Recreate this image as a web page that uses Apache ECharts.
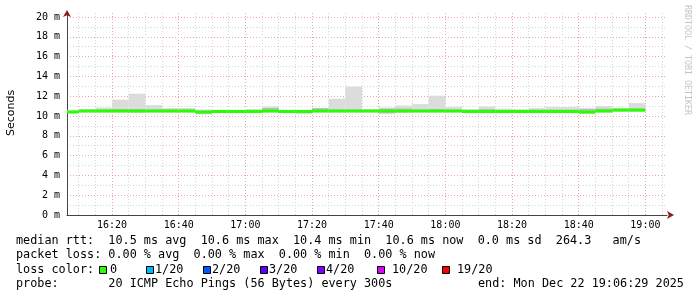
<!DOCTYPE html>
<html>
<head>
<meta charset="utf-8">
<script src="https://cdn.jsdelivr.net/npm/echarts@6/dist/echarts.min.js"></script>
<style>
html,body{margin:0;padding:0;background:#ffffff;}
#chart{width:697px;height:297px;}
</style>
</head>
<body>
<div id="chart"></div>
<script>
// ---- data (5-minute smoke columns, ms) ----
const colStarts = ['16:05','16:10','16:15','16:20','16:25','16:30','16:35','16:40','16:45','16:50',
  '16:55','17:00','17:05','17:10','17:15','17:20','17:25','17:30','17:35','17:40',
  '17:45','17:50','17:55','18:00','18:05','18:10','18:15','18:20','18:25','18:30',
  '18:35','18:40','18:45','18:50','18:55'];
const smokeMax = [10.6,10.7,10.85,11.65,12.25,11.1,10.8,10.8,10.65,10.5,
  10.55,10.7,10.95,10.6,10.6,10.8,11.75,12.95,10.7,10.85,
  11.05,11.2,12.05,10.9,10.7,10.95,10.75,10.7,10.8,10.9,
  10.9,10.8,11.0,10.8,11.3];
const smokeMin = [10.3,10.35,10.35,10.35,10.3,10.35,10.35,10.35,10.15,10.3,
  10.35,10.35,10.35,10.35,10.2,10.35,10.35,10.35,10.35,10.2,
  10.3,10.35,10.35,10.35,10.35,10.35,10.35,10.3,10.35,10.35,
  10.35,10.2,10.35,10.4,10.4];
const innerLo = [10.35,10.4,10.4,10.4,10.4,10.4,10.4,10.4,10.25,10.35,
  10.4,10.4,10.4,10.4,10.3,10.4,10.4,10.4,10.4,10.3,
  10.4,10.4,10.4,10.4,10.4,10.4,10.4,10.35,10.4,10.4,
  10.4,10.3,10.4,10.5,10.5];
const innerHi = [10.5,10.6,10.65,10.7,10.7,10.65,10.65,10.65,10.55,10.5,
  10.5,10.6,10.8,10.55,10.55,10.8,10.65,10.65,10.6,10.75,
  10.75,10.65,10.7,10.65,10.6,10.7,10.6,10.6,10.65,10.65,
  10.65,10.7,10.75,10.7,10.75];
const medianRtt = [10.4,10.5,10.5,10.5,10.5,10.5,10.5,10.5,10.4,10.45,
  10.45,10.45,10.5,10.45,10.45,10.5,10.5,10.5,10.5,10.5,
  10.5,10.5,10.5,10.5,10.45,10.45,10.45,10.45,10.45,10.45,
  10.45,10.4,10.5,10.6,10.6];
const xLabelTimes = ['16:20','16:40','17:00','17:20','17:40','18:00','18:20','18:40','19:00'];
const yLabelValues = [0,2,4,6,8,10,12,14,16,18,20];
const stepMinutes = 5;
const rangeStart = '16:06:29';
const rangeEnd = '19:06:29';

// ---- helpers ----
function toMin(s){ const p = s.split(':').map(Number); return p[0]*60 + p[1] + (p[2]||0)/60; }
function fmt(v){ const h = Math.floor(v/60), m = Math.round(v - h*60); return h + ':' + (m<10?'0':'') + m; }

const xMin = toMin(rangeStart), xMax = toMin(rangeEnd);
const minorTicks = [];
for (let t = Math.ceil(xMin/stepMinutes)*stepMinutes; t <= xMax; t += stepMinutes) minorTicks.push(t);
const majorTicks = xLabelTimes.map(toMin);

const outerData = colStarts.map((s,i)=>[toMin(s), toMin(s)+stepMinutes, smokeMin[i], smokeMax[i]]);
const innerData = colStarts.map((s,i)=>[toMin(s), toMin(s)+stepMinutes, innerLo[i], innerHi[i]]);
const medData = colStarts.map((s,i)=>[toMin(s), toMin(s)+stepMinutes, medianRtt[i], medianRtt[i]]);

function clipTo(params, r){
  const cs = params.coordSys;
  return echarts.graphic.clipRectByRect(r, {x:cs.x, y:cs.y, width:cs.width, height:cs.height});
}
function rectRenderer(color){
  return function(params, api){
    const p0 = api.coord([api.value(0), api.value(3)]);
    const p1 = api.coord([api.value(1), api.value(2)]);
    const r = clipTo(params, {x:p0[0], y:p0[1], width:p1[0]-p0[0], height:p1[1]-p0[1]});
    return r && {type:'rect', shape:r, style:{fill:color}};
  };
}
function medianRenderer(color, thick){
  return function(params, api){
    const p0 = api.coord([api.value(0), api.value(2)]);
    const p1 = api.coord([api.value(1), api.value(2)]);
    const r = clipTo(params, {x:p0[0], y:p0[1]-thick/2, width:p1[0]-p0[0], height:thick});
    return r && {type:'rect', shape:r, style:{fill:color}};
  };
}

const MONO = 'DejaVu Sans Mono';
const GRIDC = '#d6d6d6', MGRIDC = '#eba5a5';
const LF = 11.8;

const chart = echarts.init(document.getElementById('chart'), null, {renderer:'canvas'});
chart.setOption({
  animation:false,
  backgroundColor:'#ffffff',
  grid:{left:67, right:30, top:13, bottom:82, containLabel:false, outerBoundsMode:'none'},
  xAxis:[{
    type:'value', min:xMin, max:xMax,
    axisLine:{show:true, lineStyle:{color:'#444', width:1}},
    axisTick:{show:false, customValues:minorTicks},
    axisLabel:{show:true, customValues:majorTicks, formatter:v=>fmt(v),
      fontFamily:MONO, fontSize:10, color:'#000', margin:5},
    splitLine:{show:true, lineStyle:{color:[GRIDC,GRIDC,MGRIDC,GRIDC], type:[1,2], width:1}}
  },{
    type:'value', min:xMin, max:xMax, position:'bottom',
    axisLine:{show:true, symbol:['none','arrow'], symbolSize:[6,7], symbolOffset:[0,7],
      lineStyle:{color:'#8a1c1c', width:0.01}},
    axisTick:{show:false}, axisLabel:{show:false}, splitLine:{show:false}
  }],
  yAxis:[{
    type:'value', min:0, max:20.4, interval:1,
    axisLine:{show:true, lineStyle:{color:'#444', width:1}},
    axisTick:{show:false},
    axisLabel:{fontFamily:MONO, fontSize:10, color:'#000', margin:7,
      formatter:v=> (yLabelValues.indexOf(v) >= 0 ? v + ' m' : '')},
    splitLine:{show:true, showMaxLine:false, lineStyle:{color:[MGRIDC,GRIDC], type:[1,2], width:1}}
  },{
    type:'value', min:0, max:20.4, position:'left',
    axisLine:{show:true, symbol:['none','arrow'], symbolSize:[6,7], symbolOffset:[0,3],
      lineStyle:{color:'#8a1c1c', width:0.01}},
    axisTick:{show:false}, axisLabel:{show:false}, splitLine:{show:false}
  }],
  series:[
    {type:'custom', name:'smoke', xAxisIndex:0, yAxisIndex:0, renderItem:rectRenderer('#dcdcdc'),
      encode:{x:[0,1], y:[2,3]}, data:outerData, z:2},
    {type:'custom', name:'smokeInner', xAxisIndex:0, yAxisIndex:0, renderItem:rectRenderer('#bdbdbd'),
      encode:{x:[0,1], y:[2,3]}, data:innerData, z:3},
    {type:'custom', name:'median', xAxisIndex:0, yAxisIndex:0, renderItem:medianRenderer('#26ff00', 3),
      encode:{x:[0,1], y:[2,3]}, data:medData, z:4}
  ],
  graphic:[
    {type:'text', x:11, y:113, rotation:Math.PI/2,
      style:{text:'Seconds', fontFamily:'DejaVu Sans', fontSize:11, fill:'#000', align:'center', verticalAlign:'middle'}},
    {type:'text', x:691, y:5, rotation:-Math.PI/2,
      style:{text:'RRDTOOL / TOBI OETIKER', fontFamily:MONO, fontSize:8.3, fill:'#c4c4c4', align:'left', verticalAlign:'top'}},
    {type:'text', x:16, y:240.5, style:{text:'median rtt:  10.5 ms avg  10.6 ms max  10.4 ms min  10.6 ms now  0.0 ms sd  264.3   am/s', fontFamily:MONO, fontSize:LF, fill:'#000', verticalAlign:'middle'}},
    {type:'text', x:16, y:255, style:{text:'packet loss: 0.00 % avg  0.00 % max  0.00 % min  0.00 % now', fontFamily:MONO, fontSize:LF, fill:'#000', verticalAlign:'middle'}},
    {type:'text', x:16, y:269.5, style:{text:'loss color:', fontFamily:MONO, fontSize:LF, fill:'#000', verticalAlign:'middle'}},
    {type:'rect', shape:{x:99.5,y:266.5,width:7,height:7}, style:{fill:'#26ff00', stroke:'#000', lineWidth:1}},
    {type:'text', x:110, y:269.5, style:{text:'0', fontFamily:MONO, fontSize:LF, fill:'#000', verticalAlign:'middle'}},
    {type:'rect', shape:{x:146.5,y:266.5,width:7,height:7}, style:{fill:'#00b8ff', stroke:'#000', lineWidth:1}},
    {type:'text', x:155, y:269.5, style:{text:'1/20', fontFamily:MONO, fontSize:LF, fill:'#000', verticalAlign:'middle'}},
    {type:'rect', shape:{x:203.5,y:266.5,width:7,height:7}, style:{fill:'#0059ff', stroke:'#000', lineWidth:1}},
    {type:'text', x:212, y:269.5, style:{text:'2/20', fontFamily:MONO, fontSize:LF, fill:'#000', verticalAlign:'middle'}},
    {type:'rect', shape:{x:260.5,y:266.5,width:7,height:7}, style:{fill:'#5e00ff', stroke:'#000', lineWidth:1}},
    {type:'text', x:269, y:269.5, style:{text:'3/20', fontFamily:MONO, fontSize:LF, fill:'#000', verticalAlign:'middle'}},
    {type:'rect', shape:{x:317.5,y:266.5,width:7,height:7}, style:{fill:'#7e00ff', stroke:'#000', lineWidth:1}},
    {type:'text', x:326, y:269.5, style:{text:'4/20', fontFamily:MONO, fontSize:LF, fill:'#000', verticalAlign:'middle'}},
    {type:'rect', shape:{x:377.5,y:266.5,width:7,height:7}, style:{fill:'#dd00ff', stroke:'#000', lineWidth:1}},
    {type:'text', x:392, y:269.5, style:{text:'10/20', fontFamily:MONO, fontSize:LF, fill:'#000', verticalAlign:'middle'}},
    {type:'rect', shape:{x:442.5,y:266.5,width:7,height:7}, style:{fill:'#ff0000', stroke:'#000', lineWidth:1}},
    {type:'text', x:457, y:269.5, style:{text:'19/20', fontFamily:MONO, fontSize:LF, fill:'#000', verticalAlign:'middle'}},
    {type:'text', x:16, y:284, style:{text:'probe:       20 ICMP Echo Pings (56 Bytes) every 300s', fontFamily:MONO, fontSize:LF, fill:'#000', verticalAlign:'middle'}},
    {type:'text', x:478, y:284, style:{text:'end: Mon Dec 22 19:06:29 2025', fontFamily:MONO, fontSize:LF, fill:'#000', verticalAlign:'middle'}}
  ]
});
</script>
</body>
</html>
